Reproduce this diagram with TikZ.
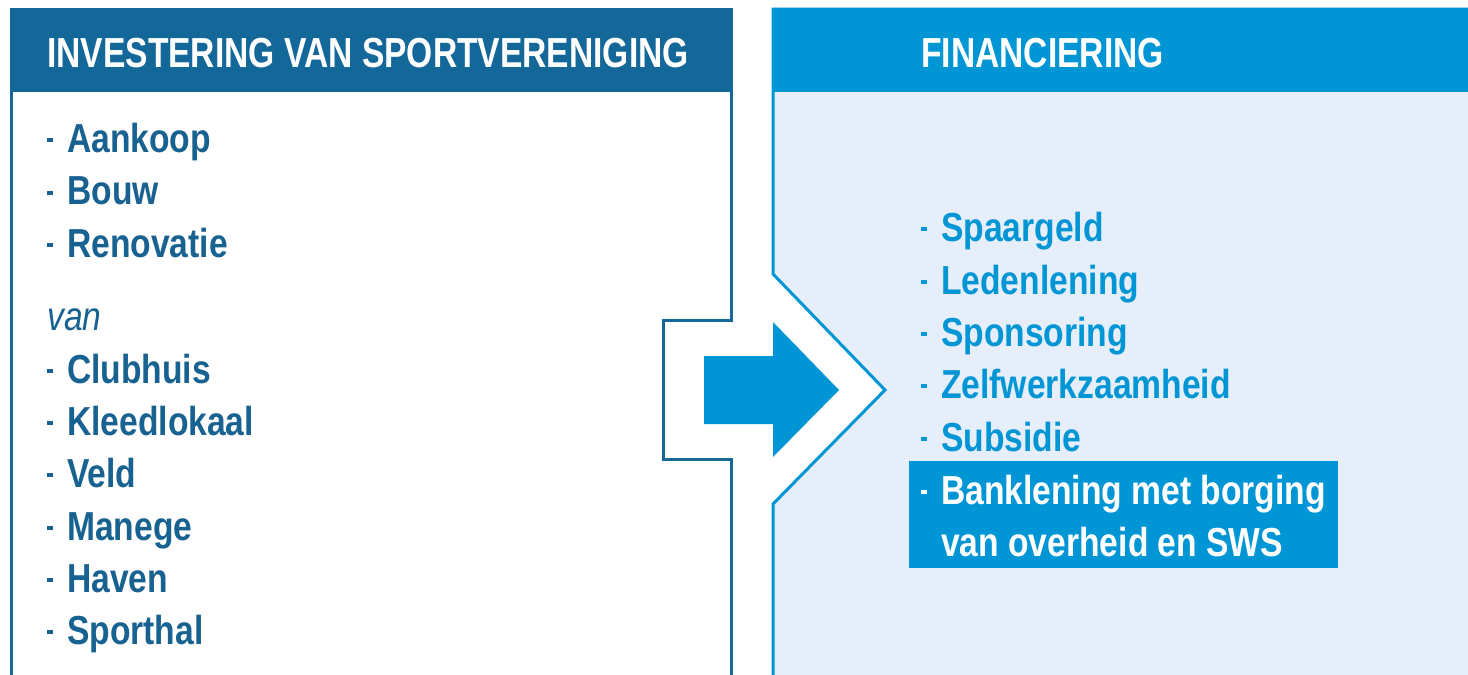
\documentclass[tikz,border=0pt]{standalone}
\usepackage{xcolor}
\usepackage{fontspec}
\newfontfamily\headfont{Liberation Sans}[FakeStretch=0.8]
\newfontfamily\itemfont{Liberation Sans}[FakeStretch=0.83]
\usepackage{tikz}
\usetikzlibrary{positioning}

\definecolor{darkblue}{RGB}{19,104,153}
\definecolor{itemblue}{RGB}{24,98,145}
\definecolor{lightblue}{RGB}{0,150,214}
\definecolor{paleblue}{RGB}{230,238,249}

\newcommand{\itemdash}{\rule[10pt]{6pt}{4pt}\hspace{14pt}}

\begin{document}
\begin{tikzpicture}
            [x=1pt,y=-1pt,
             every node/.style={inner sep=0pt, anchor=base west},
             head/.style={text=white, font=\headfont\bfseries\fontsize{42}{48}\selectfont},
             leftitem/.style={text=itemblue, font=\itemfont\bfseries\fontsize{40.5}{48}\selectfont},
             rightitem/.style={text=lightblue, font=\itemfont\bfseries\fontsize{40.5}{48}\selectfont}]
            \useasboundingbox (0,0) rectangle (1468,675);
            \fill[white] (0,0) rectangle (1468,675);

            % left box with notch
            \fill[darkblue] (11,9) rectangle (731,92);
            \draw[darkblue, line width=3pt] (11,680) -- (11,9) -- (731,9) -- (731,320) -- (663,320)
                -- (663,459) -- (731,459) -- (731,680);

            % right box with notch
            \fill[paleblue] (773,92) -- (1470,92) -- (1470,680) -- (773,680) -- (773,504)
                -- (885,390) -- (773,274) -- cycle;
            \fill[lightblue] (773,9) rectangle (1470,92);
            \draw[lightblue, line width=3pt] (773,680) -- (773,504) -- (885,390) -- (773,274)
                -- (773,9) -- (1470,9);

            % arrow
            \fill[lightblue] (704,356) -- (773,356) -- (773,322) -- (839,390) -- (773,457)
                -- (773,424) -- (704,424) -- cycle;

            \node[head] (invest) at (47,67) {INVESTERING VAN SPORTVERENIGING};
            \node[head] (financ) at (921,67) {FINANCIERING};

            \foreach \name/\y/\txt in {aankoop/152/Aankoop, bouw/204.5/Bouw, renovatie/257/Renovatie,
                clubhuis/383/Clubhuis, kleedlokaal/435/Kleedlokaal, veld/487/Veld,
                manege/540/Manege, haven/592/Haven, sporthal/644/Sporthal}
            \node[leftitem] (\name) at (47,\y) {\itemdash\txt};
            \node[text=itemblue, font=\itemfont\itshape\fontsize{40.5}{48}\selectfont] (van) at (47,330) {van};

            \node[fill=lightblue, anchor=north west, minimum width=429pt, minimum height=107pt] (bank) at (909,461) {};
            \foreach \name/\y/\txt in {spaargeld/241/Spaargeld, ledenlening/294/Ledenlening,
                sponsoring/346/Sponsoring, zelfwerk/398/Zelfwerkzaamheid, subsidie/451/Subsidie}
            \node[rightitem] (\name) at (921,\y) {\itemdash\txt};
            \node[rightitem, text=white] (banklening) at (921,504) {\itemdash Banklening met borging};
            \node[rightitem, text=white] (overheid) at (941,556) {van overheid en SWS};
          \end{tikzpicture}
\end{document}
